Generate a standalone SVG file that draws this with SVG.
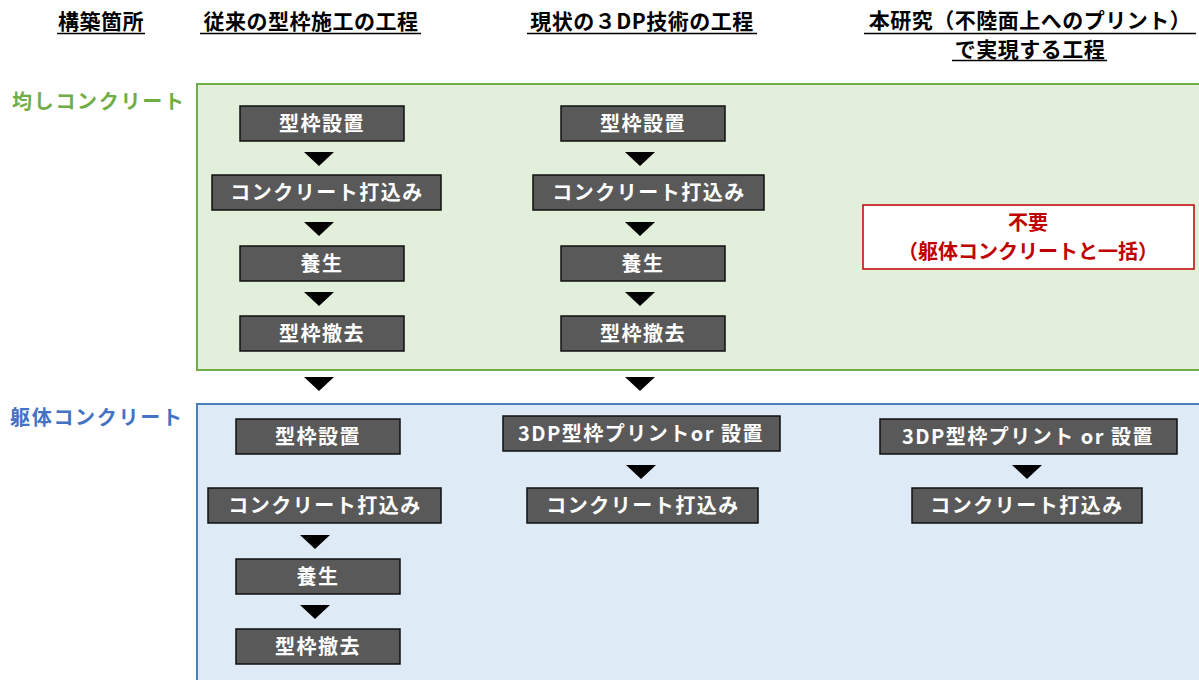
<svg xmlns="http://www.w3.org/2000/svg" width="1199" height="680" viewBox="0 0 1199 680">
<style>
text{font-family:"Noto Sans CJK JP","Noto Sans",sans-serif;font-weight:bold}
.hd{font-size:21px;fill:#000;text-anchor:middle;letter-spacing:0.5px}
.ul{stroke:#000;stroke-width:1.5}
.box{fill:#595959;stroke:#111;stroke-width:1.5}
.bt{font-size:20px;fill:#fff;text-anchor:middle;letter-spacing:1.5px}
.tri{fill:#000}
.red{font-size:20px;fill:#c00000;text-anchor:middle}
</style>
<g id="headers">
<text class="hd" x="101" y="29">構築箇所</text>
<line class="ul" x1="57" y1="33.5" x2="145" y2="33.5"/>
<text class="hd" x="311" y="29">従来の型枠施工の工程</text>
<line class="ul" x1="200" y1="33.5" x2="421" y2="33.5"/>
<text class="hd" x="642" y="29">現状の３DP技術の工程</text>
<line class="ul" x1="527" y1="33.5" x2="757" y2="33.5"/>
<text class="hd" x="1030" y="28">本研究（不陸面上へのプリント）</text>
<line class="ul" x1="864" y1="33.5" x2="1196" y2="33.5"/>
<text class="hd" x="1030" y="57">で実現する工程</text>
<line class="ul" x1="952" y1="60.5" x2="1107" y2="60.5"/>
</g>
<g id="panel-green">
<rect x="197" y="84" width="1010" height="286" fill="#e2efda" stroke="#70ad47" stroke-width="2"/>
<text x="12" y="109" font-size="20" fill="#70ad47" letter-spacing="1.7">均しコンクリート</text>
</g>
<g id="panel-blue">
<rect x="197" y="404" width="1010" height="290" fill="#deebf7" stroke="#4a7ebb" stroke-width="2"/>
<text x="10" y="425" font-size="20" fill="#4472c4" letter-spacing="1.7">躯体コンクリート</text>
</g>
<g id="connectors">
<polygon class="tri" points="304,152 334,152 319,166"/>
<polygon class="tri" points="304,222 334,222 319,236"/>
<polygon class="tri" points="304,292 334,292 319,306"/>
<polygon class="tri" points="304,377 334,377 319,391"/>
<polygon class="tri" points="625,152 655,152 640,166"/>
<polygon class="tri" points="625,222 655,222 640,236"/>
<polygon class="tri" points="625,292 655,292 640,306"/>
<polygon class="tri" points="625,377 655,377 640,391"/>
<polygon class="tri" points="300,535 330,535 315,549"/>
<polygon class="tri" points="300,605 330,605 315,619"/>
<polygon class="tri" points="626,465 656,465 641,479"/>
<polygon class="tri" points="1012,465 1042,465 1027,479"/>
</g>
<g id="n1"><rect class="box" x="240" y="106" width="164" height="35"/><text class="bt" x="322" y="131">型枠設置</text></g>
<g id="n2"><rect class="box" x="212" y="175" width="229" height="35"/><text class="bt" x="327" y="200">コンクリート打込み</text></g>
<g id="n3"><rect class="box" x="240" y="246" width="164" height="35"/><text class="bt" x="322" y="271">養生</text></g>
<g id="n4"><rect class="box" x="240" y="316" width="164" height="35"/><text class="bt" x="322" y="341">型枠撤去</text></g>
<g id="n5"><rect class="box" x="561" y="106" width="164" height="35"/><text class="bt" x="643" y="131">型枠設置</text></g>
<g id="n6"><rect class="box" x="533" y="175" width="231" height="35"/><text class="bt" x="649" y="200">コンクリート打込み</text></g>
<g id="n7"><rect class="box" x="561" y="246" width="164" height="35"/><text class="bt" x="643" y="271">養生</text></g>
<g id="n8"><rect class="box" x="561" y="316" width="164" height="35"/><text class="bt" x="643" y="341">型枠撤去</text></g>
<g id="n9"><rect x="863" y="205" width="331" height="64" fill="#fff" stroke="#c00000" stroke-width="1.5"/>
<text class="red" x="1028" y="229.5">不要</text>
<text class="red" x="1028" y="258.5">（躯体コンクリートと一括）</text></g>
<g id="n10"><rect class="box" x="236" y="419" width="164" height="35"/><text class="bt" x="318" y="444">型枠設置</text></g>
<g id="n11"><rect class="box" x="208" y="488" width="233" height="35"/><text class="bt" x="325" y="513">コンクリート打込み</text></g>
<g id="n12"><rect class="box" x="236" y="559" width="164" height="35"/><text class="bt" x="318" y="584">養生</text></g>
<g id="n13"><rect class="box" x="236" y="629" width="164" height="35"/><text class="bt" x="318" y="654">型枠撤去</text></g>
<g id="n14"><rect class="box" x="503" y="416" width="277" height="35"/><text class="bt" x="641" y="441" letter-spacing="0">3DP型枠プリントor 設置</text></g>
<g id="n15"><rect class="box" x="527" y="488" width="231" height="35"/><text class="bt" x="643" y="513">コンクリート打込み</text></g>
<g id="n16"><rect class="box" x="880" y="419" width="297" height="35"/><text class="bt" x="1028" y="444" letter-spacing="0">3DP型枠プリント or 設置</text></g>
<g id="n17"><rect class="box" x="912" y="488" width="230" height="35"/><text class="bt" x="1027" y="513">コンクリート打込み</text></g>
</svg>
